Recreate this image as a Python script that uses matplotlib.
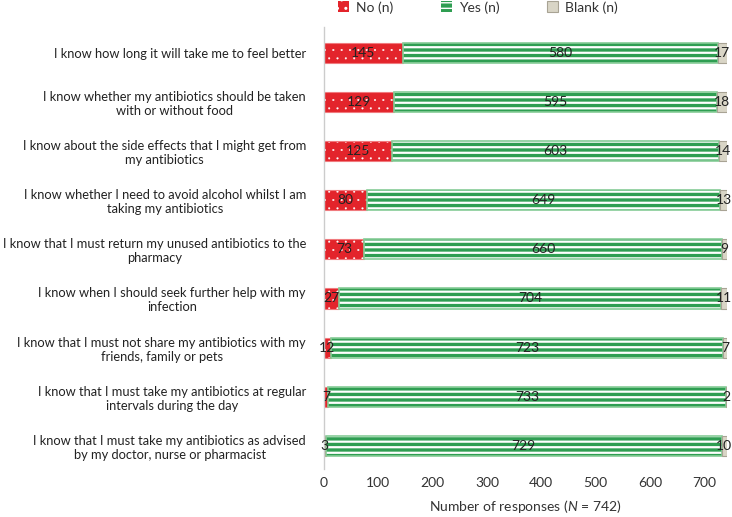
import matplotlib
matplotlib.use('Agg')
import matplotlib.pyplot as plt
from matplotlib.patches import Patch
import numpy as np

plt.rcParams['font.family'] = ['Lato', 'DejaVu Sans']
plt.rcParams['mathtext.fontset'] = 'custom'
plt.rcParams['mathtext.it'] = 'Lato:italic'
plt.rcParams['mathtext.rm'] = 'Lato'

statements = [
    "I know how long it will take me to feel better",
    "I know whether my antibiotics should be taken\nwith or without food",
    "I know about the side effects that I might get from\nmy antibiotics",
    "I know whether I need to avoid alcohol whilst I am\ntaking my antibiotics",
    "I know that I must return my unused antibiotics to the\npharmacy",
    "I know when I should seek further help with my\ninfection",
    "I know that I must not share my antibiotics with my\nfriends, family or pets",
    "I know that I must take my antibiotics at regular\nintervals during the day",
    "I know that I must take my antibiotics as advised\nby my doctor, nurse or pharmacist",
]
no_n = [145, 129, 125, 80, 73, 27, 12, 7, 3]
yes_n = [580, 595, 603, 649, 660, 704, 723, 733, 729]
blank_n = [17, 18, 14, 13, 9, 11, 7, 2, 10]

RED = '#e3242b'
RED_EDGE = '#f07a7e'
GREEN = '#2f9e52'
GREEN_EDGE = '#86cc97'
BLANK = '#d9d5c6'
BLANK_EDGE = '#a8a394'

fig = plt.figure(figsize=(7.32, 5.17), dpi=100)
ax = fig.add_axes([324 / 732, 0.093, (727 - 324) / 732, 0.855])

y = np.arange(len(statements))
h = 0.41
no = np.array(no_n)
yes = np.array(yes_n)
blank = np.array(blank_n)

# punane, valged tapid
with plt.rc_context({'hatch.linewidth': 0.25}):
    ax.barh(y, no, height=h, color=RED, edgecolor='white', linewidth=0, hatch='..')
ax.barh(y, no, height=h, fill=False, edgecolor=RED_EDGE, linewidth=0.8)
# roheline, valged triibud
with plt.rc_context({'hatch.linewidth': 1.6}):
    ax.barh(y, yes, left=no, height=h, color=GREEN, edgecolor='white', linewidth=0, hatch='---')
ax.barh(y, yes, left=no, height=h, fill=False, edgecolor=GREEN_EDGE, linewidth=1.2)
# tühjad
ax.barh(y, blank, left=no + yes, height=h, color=BLANK, edgecolor=BLANK_EDGE, linewidth=0.8)

for i in range(len(y)):
    ax.text(no[i] / 2, y[i], str(no[i]), ha='center', va='center', fontsize=10, color='#222222')
    ax.text(no[i] + yes[i] / 2, y[i], str(yes[i]), ha='center', va='center', fontsize=10, color='#222222')
    ax.text(no[i] + yes[i] + blank[i] / 2, y[i], str(blank[i]), ha='center', va='center', fontsize=10, color='#222222')

ax.set_yticks(y)
ax.set_yticklabels(statements, multialignment='center', fontsize=9.25, color='#222222')
ax.set_ylim(8.47, -0.53)
ax.set_xlim(0, 742)
ax.set_xticks([0, 100, 200, 300, 400, 500, 600, 700])
ax.tick_params(axis='y', length=0, pad=13)
ax.tick_params(axis='x', length=0, pad=6, labelsize=10, labelcolor='#333333')
ax.set_xlabel(r'Number of responses ($N$ = 742)', fontsize=10, color='#333333', labelpad=6)

for s in ['top', 'right', 'bottom']:
    ax.spines[s].set_visible(False)
ax.spines['left'].set_color('#cccccc')
ax.spines['left'].set_linewidth(1)

with plt.rc_context({'hatch.linewidth': 0.25}):
    h_no = Patch(facecolor=RED, edgecolor='white', linewidth=0, hatch='..', label='No (n)')
with plt.rc_context({'hatch.linewidth': 1.6}):
    h_yes = Patch(facecolor=GREEN, edgecolor='white', linewidth=0, hatch='---', label='Yes (n)')
h_blank = Patch(facecolor=BLANK, edgecolor=BLANK_EDGE, linewidth=0.8, label='Blank (n)')
fig.legend(handles=[h_no, h_yes, h_blank], loc='center', bbox_to_anchor=(0.653, 0.986), ncol=3,
           frameon=False, fontsize=10, handlelength=0.8, handleheight=0.8, columnspacing=3.4,
           handletextpad=0.5, labelcolor='#333333')

fig.savefig('out.png', dpi=100)
